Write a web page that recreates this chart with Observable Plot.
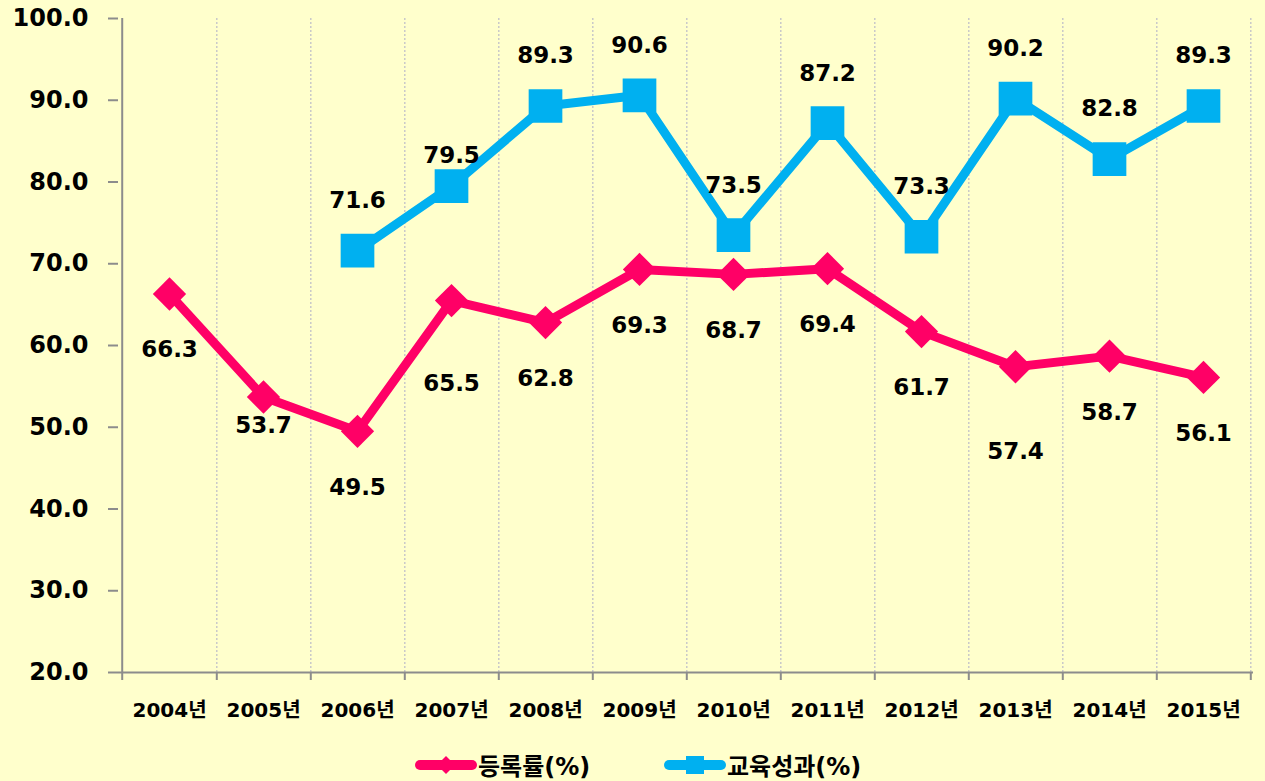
<!DOCTYPE html>
<html>
<head>
<meta charset="utf-8">
<script src="https://cdn.jsdelivr.net/npm/d3@7"></script>
<script src="https://cdn.jsdelivr.net/npm/@observablehq/plot@0.6"></script>
<style>
  html, body { margin: 0; padding: 0; background: #FFFFCC; }
  body { width: 1265px; height: 781px; overflow: hidden; font-family: "DejaVu Sans", "Noto Sans CJK KR", sans-serif; }
  #legend { position: relative; height: 41px; }
  .item { position: absolute; top: 7px; display: flex; align-items: center; font-weight: bold; font-size: 24px; color: #000; }
</style>
</head>
<body>
<div id="chart"></div>
<div id="legend">
  <div class="item" style="left:414px">
    <svg width="64" height="26"><line x1="6" y1="13" x2="58" y2="13" stroke="#FF0066" stroke-width="10" stroke-linecap="round"/><path d="M32,4 L41,13 L32,22 L23,13 Z" fill="#FF0066"/></svg><span>등록률(%)</span>
  </div>
  <div class="item" style="left:663px">
    <svg width="64" height="26"><line x1="6" y1="13" x2="58" y2="13" stroke="#00B0F0" stroke-width="10" stroke-linecap="round"/><rect x="23" y="4" width="18" height="18" fill="#00B0F0"/></svg><span>교육성과(%)</span>
  </div>
</div>
<script>
const years = ["2004년","2005년","2006년","2007년","2008년","2009년","2010년","2011년","2012년","2013년","2014년","2015년"];
const enrollment = [66.3, 53.7, 49.5, 65.5, 62.8, 69.3, 68.7, 69.4, 61.7, 57.4, 58.7, 56.1];
const outcomeYears = ["2006년","2007년","2008년","2009년","2010년","2011년","2012년","2013년","2014년","2015년"];
const outcome = [71.6, 79.5, 89.3, 90.6, 73.5, 87.2, 73.3, 90.2, 82.8, 89.3];
const yTicks = [20, 30, 40, 50, 60, 70, 80, 90, 100];

const pink = years.map((y, i) => ({year: y, value: enrollment[i]}));
const blue = outcomeYears.map((y, i) => ({year: y, value: outcome[i]}));

const W = 1265, H = 740, mL = 118, mR = 12, mT = 18, mB = 68;
const bw = (W - mL - mR) / years.length;
const font = "'DejaVu Sans', 'Noto Sans CJK KR', sans-serif";
const axisGrey = "#8C8C8C";

// label offsets (style only)
const pinkDy = {"2005년": 29, "2007년": 83, "2013년": 85};
const blueDy = {"2007년": -30};
const lbl = {text: d => d.value.toFixed(1), fontSize: 23, fontWeight: "bold", fill: "#000"};

const chart = Plot.plot({
  width: W, height: H,
  marginLeft: mL, marginRight: mR, marginTop: mT, marginBottom: mB,
  style: {background: "transparent", fontFamily: font},
  x: {type: "band", domain: years, padding: 0, label: null},
  y: {domain: [20, 100], label: null},
  marks: [
    // vertical dotted gridlines at category boundaries
    Plot.ruleX(years, {x: d => d, dx: bw / 2, y1: 20, y2: 100, stroke: "#C9C9C9", strokeWidth: 1.5, strokeDasharray: "2,2"}),
    // axes lines
    Plot.ruleY([20], {stroke: axisGrey, strokeWidth: 2}),
    Plot.ruleX([years[0]], {dx: -bw / 2, y1: 20, y2: 100, stroke: axisGrey, strokeWidth: 2}),
    // x tick marks at boundaries
    Plot.ruleX(years, {x: d => d, dx: bw / 2, y1: 20, y2: 20, insetBottom: -8, stroke: axisGrey, strokeWidth: 2}),
    Plot.ruleX([years[0]], {dx: -bw / 2, y1: 20, y2: 20, insetBottom: -8, stroke: axisGrey, strokeWidth: 2}),
    Plot.axisX({tickSize: 0, tickPadding: 30, fontSize: 20, fontWeight: "bold", fill: "#000", label: null}),
    Plot.axisY({ticks: yTicks, tickSize: 10, tickPadding: 20, stroke: axisGrey, strokeWidth: 2, tickFormat: d3.format(".1f"), fontSize: 24, fontWeight: "bold", fill: "#000", label: null}),
    // series
    Plot.line(pink, {x: "year", y: "value", stroke: "#FF0066", strokeWidth: 9}),
    Plot.dot(pink, {x: "year", y: "value", symbol: "diamond2", r: 15, fill: "#FF0066", stroke: "none"}),
    Plot.line(blue, {x: "year", y: "value", stroke: "#00B0F0", strokeWidth: 9}),
    Plot.dot(blue, {x: "year", y: "value", symbol: "square", r: 19, fill: "#00B0F0", stroke: "none"}),
    // data labels
    Plot.text(pink.filter(d => !(d.year in pinkDy)), {x: "year", y: "value", dy: 56, ...lbl}),
    ...Object.entries(pinkDy).map(([yr, dy]) =>
      Plot.text(pink.filter(d => d.year === yr), {x: "year", y: "value", dy, ...lbl})),
    Plot.text(blue.filter(d => !(d.year in blueDy)), {x: "year", y: "value", dy: -50, ...lbl}),
    ...Object.entries(blueDy).map(([yr, dy]) =>
      Plot.text(blue.filter(d => d.year === yr), {x: "year", y: "value", dy, ...lbl}))
  ]
});
document.getElementById("chart").appendChild(chart);
</script>
</body>
</html>
